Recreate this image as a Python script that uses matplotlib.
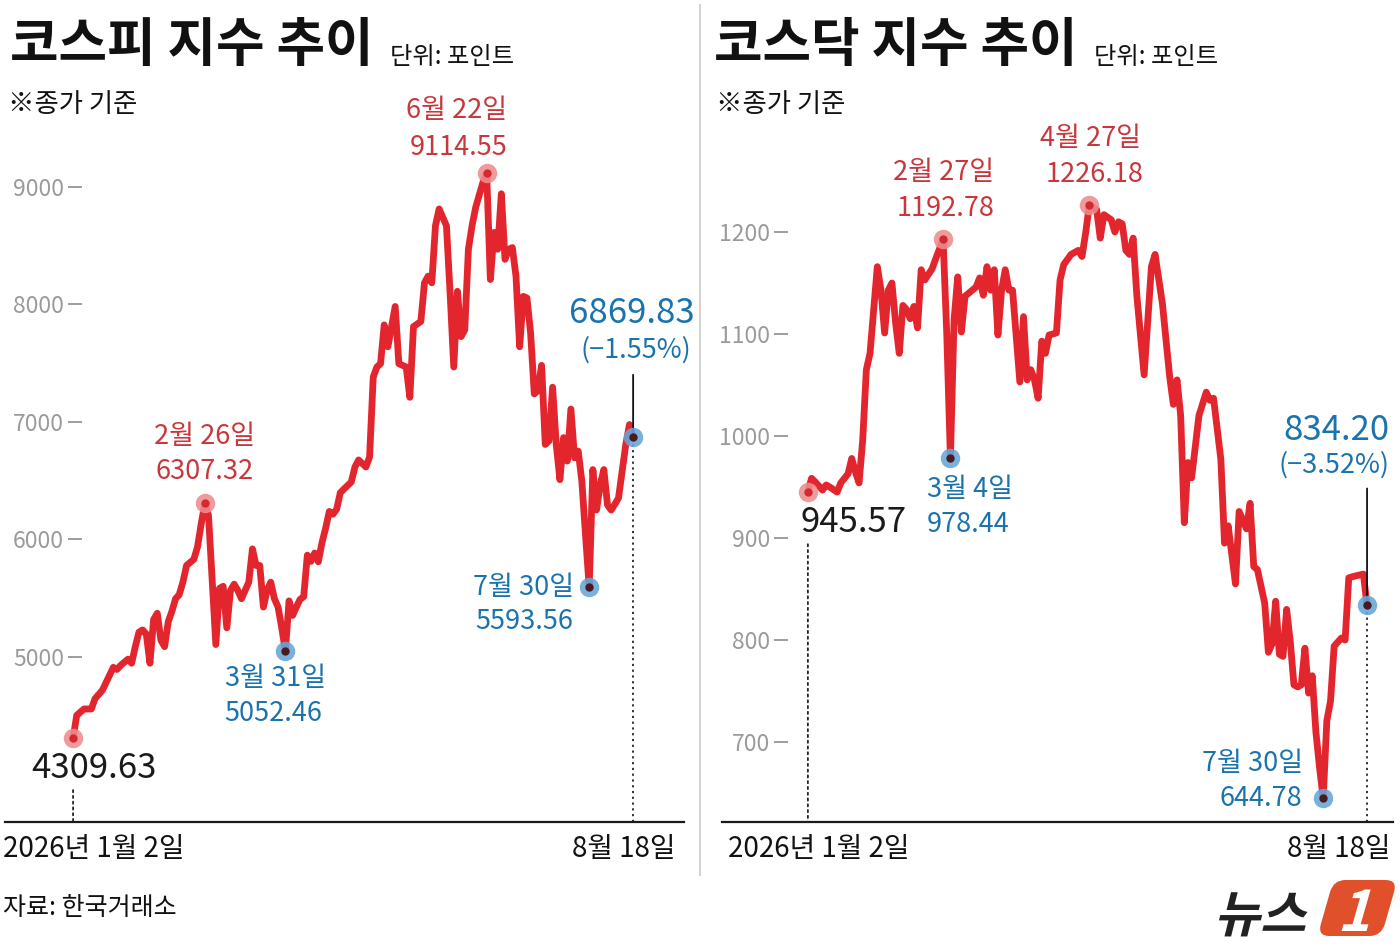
import matplotlib.pyplot as plt
import matplotlib.transforms as mtransforms
from matplotlib.font_manager import FontProperties
from matplotlib.lines import Line2D
from matplotlib.patches import FancyBboxPatch, PathPatch
from matplotlib.textpath import TextPath

plt.rcParams['font.family'] = ['Noto Sans CJK KR', 'DejaVu Sans']

# trading session index (0 = 2026-01-02, 153 = 2026-08-18) and closing values
kospi_day = [0, 1, 3, 5, 6, 8, 11, 12, 13, 15, 16, 17, 18, 19, 20, 21, 22, 23, 24, 25,
             26, 27, 28, 29, 30, 31, 33, 34, 35, 36, 37, 39, 40, 41, 42, 43, 44, 45, 46, 48,
             49, 50, 51, 52, 53, 54, 55, 56, 57, 58, 59, 60, 61, 62, 63, 64, 65, 66, 67, 68,
             69, 70, 71, 72, 73, 74, 76, 77, 78, 80, 81, 82, 83, 84, 85, 86, 87, 88, 89, 91,
             92, 93, 95, 96, 97, 98, 99, 100, 102, 103, 104, 105, 106, 107, 108, 109, 110, 112, 113, 114,
             115, 116, 117, 118, 119, 120, 121, 122, 123, 124, 125, 126, 127, 128, 129, 130, 131, 132, 133, 134,
             135, 136, 137, 138, 139, 140, 141, 142, 143, 144, 145, 146, 147, 148, 149, 151, 152, 153]
kospi_close = [4309.63, 4504, 4558, 4558, 4646, 4717, 4912, 4894, 4929, 4982, 4947, 5088, 5212, 5230, 5195, 4947, 5319, 5372, 5142, 5088,
               5301, 5389, 5496, 5531, 5637, 5779, 5832, 5938, 6133, 6307.32, 6204, 5106, 5584, 5602, 5248, 5566, 5620, 5566, 5496, 5637,
               5920, 5779, 5779, 5425, 5566, 5637, 5496, 5425, 5248, 5052.46, 5478, 5354, 5425, 5490, 5513, 5867, 5814, 5885, 5810, 5973,
               6097, 6239, 6215, 6257, 6398, 6430, 6489, 6617, 6677, 6617, 6702, 7382, 7468, 7496, 7826, 7640, 7812, 7983, 7496, 7468,
               7210, 7812, 7855, 8184, 8241, 8184, 8670, 8813, 8670, 8098, 7468, 8112, 7726, 7783, 8470, 8670, 8828, 9043, 9114.55, 8212,
               8613, 8470, 8942, 8384, 8470, 8484, 8241, 7640, 8069, 8055, 7754, 7239, 7268, 7482, 6809, 6838, 7296, 6809, 6509, 6867,
               6667, 7110, 6695, 6752, 6494, 6036, 5593.56, 6595, 6251, 6466, 6595, 6294, 6251, 6300, 6352, 6809, 6978, 6869.83]

kosdaq_day = [0, 1, 2, 4, 5, 6, 8, 9, 11, 12, 13, 14, 15, 16, 17, 18, 19, 20, 21, 22,
              23, 24, 25, 26, 27, 28, 29, 30, 31, 32, 34, 35, 37, 38, 39, 40, 41, 42, 43, 44,
              46, 47, 48, 49, 50, 51, 52, 53, 54, 55, 56, 58, 59, 60, 61, 62, 63, 64, 65, 66,
              68, 69, 70, 72, 74, 75, 76, 77, 79, 80, 81, 83, 84, 85, 86, 87, 88, 89, 90, 92,
              94, 95, 97, 99, 100, 101, 102, 103, 104, 105, 107, 109, 110, 111, 113, 114, 115, 117, 118, 120,
              121, 122, 123, 125, 126, 127, 128, 129, 130, 131, 132, 133, 134, 135, 136, 137, 138, 139, 140, 141,
              142, 143, 144, 146, 147, 148, 150, 152, 153]
kosdaq_close = [945.57, 958.5, 955, 947, 952, 950, 945, 954, 963, 978, 965, 954, 996, 1065, 1081, 1124, 1166, 1143, 1101, 1143,
                1150, 1111, 1081, 1128, 1124, 1115, 1127, 1106, 1163, 1153, 1164, 1174, 1192.78, 1100, 978.44, 1114, 1156, 1102, 1137, 1140,
                1146, 1155, 1138, 1166, 1143, 1163, 1099, 1143, 1163, 1143, 1143, 1053, 1117, 1055, 1065, 1055, 1037, 1093, 1081, 1099,
                1101, 1153, 1168, 1178, 1182, 1176, 1199, 1226.18, 1222, 1194, 1217, 1212, 1200, 1210, 1208, 1182, 1178, 1194, 1138, 1060,
                1166, 1178, 1130, 1058, 1031, 1055, 1020, 915, 974, 959, 1020, 1043, 1035, 1037, 977, 895, 912, 855, 926, 909,
                934, 872, 869, 836, 788, 796, 838, 786, 784, 830, 798, 756, 754, 756, 792, 748, 765, 710, 675, 644.78,
                721, 740, 794, 802, 800, 861, 863, 864.64, 834.20]

kospi_ticks = [5000, 6000, 7000, 8000, 9000]
kosdaq_ticks = [700, 800, 900, 1000, 1100, 1200]

RED = '#e3262d'
RED_TXT = '#c9363c'
BLUE_TXT = '#1b73ad'
PINK = '#ef8c8f'
SKY = '#64a6d8'
GRAY = '#9a9a9a'

W, H = 1400, 950
fig = plt.figure(figsize=(W / 100, H / 100), dpi=100)


def px(x, y):
    return x / W, 1 - y / H


def ftext(x, y, s, **kw):
    fig.text(*px(x, y), s, **kw)


def panel(left, width, day, close, ticks, xlim, ylim, spine_at):
    ax = fig.add_axes([left / W, 128 / H, width / W, 722 / H])
    ax.patch.set_visible(False)
    ax.plot(day, close, color=RED, lw=4.9, solid_joinstyle='round',
            solid_capstyle='round', zorder=3)
    ax.set_xlim(*xlim)
    ax.set_ylim(*ylim)
    ax.set_xticks([])
    ax.set_yticks(ticks)
    ax.set_yticklabels([str(t) for t in ticks])
    for s in ('top', 'right'):
        ax.spines[s].set_visible(False)
    ax.spines['left'].set_position(('axes', spine_at))
    ax.spines['left'].set_visible(False)
    ax.spines['bottom'].set_linewidth(1.6)
    ax.spines['bottom'].set_color('#1a1a1a')
    ax.tick_params(axis='y', length=10, width=1.2, color='#8c8c8c',
                   labelcolor=GRAY, labelsize=16.5, pad=3)
    return ax


def dot(ax, x, y, face, core):
    ax.plot(x, y, 'o', ms=14, color=face, mec='none', alpha=0.88, zorder=4)
    ax.plot(x, y, 'o', ms=6, color=core, mec='none', zorder=5)


def note(ax, x, y, s, dx, dy, color, size):
    ax.annotate(s, xy=(x, y), xytext=(dx, dy), textcoords='offset points',
                ha='center', va='center', color=color, fontsize=size)


def ends(ax, day, close, start_gap, lead):
    ymin = ax.get_ylim()[0]
    # dotted drop from the first label to the baseline
    ax.annotate('', xy=(day[0], ymin), xytext=(0, start_gap), textcoords='offset points',
                arrowprops=dict(arrowstyle='-', color='#222', lw=1.3, ls=(0, (1.2, 2)),
                                shrinkA=0, shrinkB=0))
    ax.vlines(day[-1], ymin, close[-1], colors='#222', lw=1.3, linestyles=(0, (1.2, 2)), zorder=2)
    ax.annotate('', xy=(day[-1], close[-1]), xytext=(0, lead), textcoords='offset points',
                arrowprops=dict(arrowstyle='-', color='#111', lw=1.3, shrinkA=0, shrinkB=0))


# ---- KOSPI ----
ax1 = panel(5, 679, kospi_day, kospi_close, kospi_ticks, (-18.6, 166.9), (3596, 9740), 0.1134)
ends(ax1, kospi_day, kospi_close, 23, 45)
k = dict(zip(kospi_day, kospi_close))
dot(ax1, 0, k[0], PINK, '#d22a30')
dot(ax1, 36, k[36], PINK, '#d22a30')
dot(ax1, 113, k[113], PINK, '#d22a30')
dot(ax1, 58, k[58], SKY, '#4a1a1f')
dot(ax1, 141, k[141], SKY, '#4a1a1f')
dot(ax1, 153, k[153], SKY, '#4a1a1f')
note(ax1, 0, k[0], '4309.63', 15, -22, '#1a1a1a', 25)
note(ax1, 36, k[36], '2월 26일', 0, 48, RED_TXT, 19.5)
note(ax1, 36, k[36], '6307.32', 0, 23, RED_TXT, 19.5)
note(ax1, 58, k[58], '3월 31일', -7, -20, BLUE_TXT, 19.5)
note(ax1, 58, k[58], '5052.46', -9, -45, BLUE_TXT, 19.5)
note(ax1, 113, k[113], '6월 22일', -22, 45, RED_TXT, 19.5)
note(ax1, 113, k[113], '9114.55', -20, 19, RED_TXT, 19.5)
note(ax1, 141, k[141], '7월 30일', -47, 0, BLUE_TXT, 19.5)
note(ax1, 141, k[141], '5593.56', -47, -25, BLUE_TXT, 19.5)
note(ax1, 153, k[153], '6869.83', -1, 89, BLUE_TXT, 25)
note(ax1, 153, k[153], '(−1.55%)', 2, 63, BLUE_TXT, 19.5)

# ---- KOSDAQ ----
ax2 = panel(722, 671, kosdaq_day, kosdaq_close, kosdaq_ticks, (-23.5, 160.1), (621.6, 1329.4), 0.0984)
ends(ax2, kosdaq_day, kosdaq_close, 200, 84)
q = dict(zip(kosdaq_day, kosdaq_close))
dot(ax2, 0, q[0], PINK, '#d22a30')
dot(ax2, 37, q[37], PINK, '#d22a30')
dot(ax2, 77, q[77], PINK, '#d22a30')
dot(ax2, 39, q[39], SKY, '#4a1a1f')
dot(ax2, 141, q[141], SKY, '#4a1a1f')
dot(ax2, 153, q[153], SKY, '#4a1a1f')
note(ax2, 0, q[0], '945.57', 33, -22, '#1a1a1a', 25)
note(ax2, 37, q[37], '2월 27일', 0, 48, RED_TXT, 19.5)
note(ax2, 37, q[37], '1192.78', 2, 22, RED_TXT, 19.5)
note(ax2, 77, q[77], '4월 27일', 1, 48, RED_TXT, 19.5)
note(ax2, 77, q[77], '1226.18', 4, 22, RED_TXT, 19.5)
note(ax2, 39, q[39], '3월 4일', 14, -23, BLUE_TXT, 19.5)
note(ax2, 39, q[39], '978.44', 13, -48, BLUE_TXT, 19.5)
note(ax2, 141, q[141], '7월 30일', -51, 25, BLUE_TXT, 19.5)
note(ax2, 141, q[141], '644.78', -45, 0, BLUE_TXT, 19.5)
note(ax2, 153, q[153], '834.20', -22, 126, BLUE_TXT, 25)
note(ax2, 153, q[153], '(−3.52%)', -24, 101, BLUE_TXT, 19.5)

# ---- titles and footers ----
for x0, name in ((10, '코스피 지수 추이'), (714, '코스닥 지수 추이')):
    ftext(x0, 45, name, fontsize=38, fontweight='bold', va='center', ha='left', color='#111')
for x0 in (390, 1094):
    ftext(x0, 57, '단위: 포인트', fontsize=17.5, va='center', ha='left', color='#111')
for x0 in (8, 716):
    ftext(x0, 104, '※종가 기준', fontsize=19, va='center', ha='left', color='#111')

ftext(3, 849, '2026년 1월 2일', fontsize=20, va='center', ha='left', color='#111')
ftext(675, 849, '8월 18일', fontsize=20, va='center', ha='right', color='#111')
ftext(728, 849, '2026년 1월 2일', fontsize=20, va='center', ha='left', color='#111')
ftext(1390, 849, '8월 18일', fontsize=20, va='center', ha='right', color='#111')
ftext(3, 908, '자료: 한국거래소', fontsize=18, va='center', ha='left', color='#111')

fig.add_artist(Line2D([0.5, 0.5], [1 - 5 / H, 1 - 875 / H], transform=fig.transFigure,
                      color='#d4d4d4', lw=1.5))

# ---- News1 logo ----
bold = FontProperties(family='Noto Sans CJK KR', weight='bold')
word = TextPath((0, 0), '뉴스', size=50, prop=bold)
fig.add_artist(PathPatch(word, transform=mtransforms.Affine2D().skew_deg(14, 0).translate(1214, H - 932),
                         color='#222', lw=0))
badge = FancyBboxPatch((0, 0), 60, 52, boxstyle='round,pad=2,rounding_size=12',
                       transform=mtransforms.Affine2D().skew_deg(16, 0).translate(1320, H - 934),
                       color='#e0502a', lw=0)
fig.add_artist(badge)
one = TextPath((0, 0), '1', size=56, prop=bold)
fig.add_artist(PathPatch(one, transform=mtransforms.Affine2D().skew_deg(16, 0).translate(1337, H - 931),
                         color='white', lw=0))

fig.savefig('out.png', dpi=100)
